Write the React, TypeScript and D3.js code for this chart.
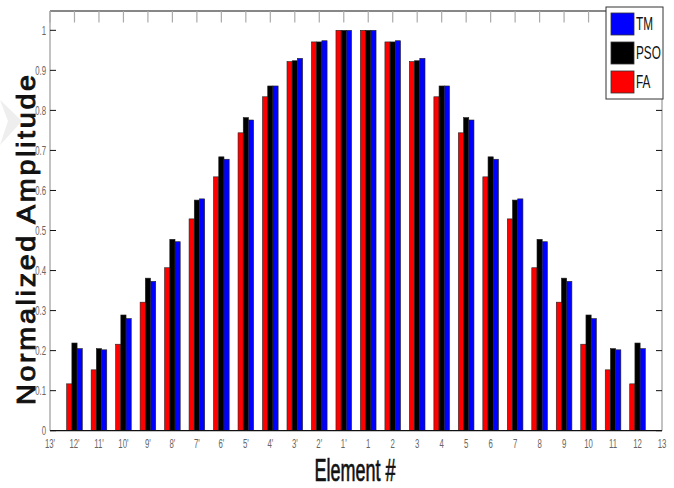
import { useRef, useEffect } from 'react';
import * as d3 from "d3";

// element labels along x (13' .. 13 are the axis ends, no bars there)
const elements = ["13'", "12'", "11'", "10'", "9'", "8'", "7'", "6'", "5'", "4'", "3'", "2'", "1'",
  "1", "2", "3", "4", "5", "6", "7", "8", "9", "10", "11", "12", "13"];
const barElements = elements.slice(1, -1);

const seriesNames = ["FA", "PSO", "TM"];
const seriesColors = ["#ff0000", "#000000", "#0000ff"];

// values, 12' .. 1' then 1 .. 12
const faVals = [0.117, 0.152, 0.216, 0.321, 0.407, 0.529, 0.634, 0.744, 0.834, 0.922, 0.971, 1,
  1, 0.971, 0.922, 0.834, 0.744, 0.634, 0.529, 0.407, 0.321, 0.216, 0.152, 0.117];
const psoVals = [0.219, 0.205, 0.289, 0.381, 0.478, 0.576, 0.684, 0.782, 0.861, 0.924, 0.971, 1,
  1, 0.971, 0.924, 0.861, 0.782, 0.684, 0.576, 0.478, 0.381, 0.289, 0.205, 0.219];
const tmVals = [0.205, 0.202, 0.28, 0.373, 0.472, 0.579, 0.678, 0.776, 0.861, 0.93, 0.974, 1,
  1, 0.974, 0.93, 0.861, 0.776, 0.678, 0.579, 0.472, 0.373, 0.28, 0.202, 0.205];

const yTicks = [0, 0.1, 0.2, 0.3, 0.4, 0.5, 0.6, 0.7, 0.8, 0.9, 1];

const W = 674, H = 488;
const left = 50, right = 662, top = 10.3, bottom = 430.7;

const App = () => {
  const ref = useRef<SVGSVGElement>(null);

  useEffect(() => {
    const svg = d3.select(ref.current);
    svg.selectAll("*").remove();

    const x = d3.scalePoint<string>().domain(elements).range([left, right]).padding(0);
    const y = d3.scaleLinear().domain([0, 1.05]).range([bottom, top]);
    const inner = d3.scaleBand<string>().domain(seriesNames).range([-7.8, 7.8]).padding(0);
    const all = [faVals, psoVals, tmVals];

    // faint watermark
    svg.append("path").attr("d", "M0,100 L22,121 L0,145 L8,121 Z").attr("fill", "#eeeeee");

    const g = svg.append("g");
    barElements.forEach((el, i) => {
      seriesNames.forEach((s, k) => {
        const v = all[k][i];
        g.append("rect")
          .attr("x", x(el)! + inner(s)!)
          .attr("y", y(v))
          .attr("width", inner.bandwidth())
          .attr("height", y(0) - y(v))
          .attr("fill", seriesColors[k])
          .attr("stroke", "#222")
          .attr("stroke-width", 0.6);
      });
    });

    // axes box
    svg.append("line").attr("x1", left).attr("x2", right).attr("y1", 11).attr("y2", 11).attr("stroke", "#111").attr("stroke-width", 1.2);
    svg.append("line").attr("x1", left).attr("x2", right).attr("y1", bottom).attr("y2", bottom).attr("stroke", "#111").attr("stroke-width", 1.2);
    svg.append("line").attr("x1", left).attr("x2", left).attr("y1", 11).attr("y2", bottom).attr("stroke", "#999").attr("stroke-width", 1.2);
    svg.append("line").attr("x1", right).attr("x2", right).attr("y1", 11).attr("y2", bottom).attr("stroke", "#999").attr("stroke-width", 1.2);

    // y ticks and labels
    yTicks.forEach(t => {
      svg.append("line").attr("x1", left).attr("x2", left + 6).attr("y1", y(t)).attr("y2", y(t)).attr("stroke", "#111");
      svg.append("line").attr("x1", right - 6).attr("x2", right).attr("y1", y(t)).attr("y2", y(t)).attr("stroke", "#111");
      svg.append("text")
        .attr("transform", `translate(${left - 4},${y(t) + 4.5}) scale(0.6,1)`)
        .attr("text-anchor", "end")
        .attr("font-family", "Liberation Sans, Arial, sans-serif")
        .attr("font-size", 13)
        .attr("fill", "#666")
        .text(String(t));
    });

    // x ticks (top) and labels
    elements.forEach(el => {
      svg.append("line").attr("x1", x(el)!).attr("x2", x(el)!).attr("y1", 11).attr("y2", 22.5).attr("stroke", "#aaa").attr("stroke-width", 1.2);
      svg.append("text")
        .attr("transform", `translate(${x(el)},${448}) scale(0.6,1)`)
        .attr("text-anchor", "middle")
        .attr("font-family", "Liberation Sans, Arial, sans-serif")
        .attr("font-size", 13)
        .attr("fill", "#666")
        .text(el);
    });

    // axis titles
    svg.append("text")
      .attr("transform", `translate(355,481) scale(0.58,1)`)
      .attr("text-anchor", "middle")
      .attr("font-family", "Liberation Sans, Arial, sans-serif")
      .attr("font-size", 31)
      .attr("fill", "#111")
      .attr("stroke", "#111")
      .attr("stroke-width", 0.7)
      .text("Element #");
    svg.append("text")
      .attr("transform", "translate(35,240) rotate(-90) scale(1.15,1)")
      .attr("text-anchor", "middle")
      .attr("font-family", "Liberation Sans, Arial, sans-serif")
      .attr("font-size", 25)
      .attr("textLength", 287)
      .attr("lengthAdjust", "spacing")
      .attr("fill", "#111")
      .attr("stroke", "#111")
      .attr("stroke-width", 0.9)
      .text("Normalized Amplitude");

    // legend
    const lg = svg.append("g");
    lg.append("rect").attr("x", 606).attr("y", 7).attr("width", 57).attr("height", 92)
      .attr("fill", "white").attr("stroke", "#333").attr("stroke-width", 1);
    const legendOrder = [2, 1, 0];
    legendOrder.forEach((k, j) => {
      const yy = 13 + j * 29;
      lg.append("rect").attr("x", 611).attr("y", yy).attr("width", 23).attr("height", 22)
        .attr("fill", seriesColors[k]).attr("stroke", "#333").attr("stroke-width", 0.8);
      lg.append("text")
        .attr("transform", `translate(636,${yy + 17}) scale(0.62,1)`)
        .attr("font-family", "Liberation Sans, Arial, sans-serif")
        .attr("font-size", 19)
        .attr("fill", "#111")
        .text(seriesNames[k]);
    });
  }, []);

  return <div style={{ position: "fixed", left: 0, top: 0, background: "white" }}>
    <svg ref={ref} width={W} height={H} style={{ display: "block" }} />
  </div>;
};

export default App;
